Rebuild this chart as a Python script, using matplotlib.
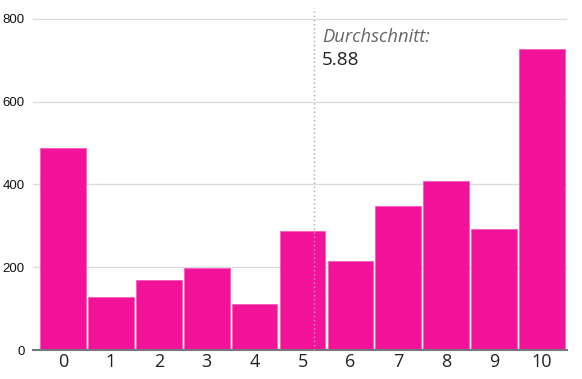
import matplotlib.pyplot as plt

# Werte
scores = [0, 1, 2, 3, 4, 5, 6, 7, 8, 9, 10]
counts = [487, 129, 168, 198, 110, 288, 214, 349, 407, 293, 728]
mean_value = 5.88
mean_pos = 5.23   # wo die Linie im Original steht

pink = '#f2139a'

fig = plt.figure(figsize=(5.82, 3.79), dpi=100)
ax = fig.add_axes([0.0567, 0.0765, 0.9175, 0.9024])

ax.bar(scores, counts, width=0.955, color=pink, edgecolor='#f75bb9', linewidth=0.6, zorder=3)

ax.set_xlim(-0.626, 10.52)
ax.set_ylim(0, 826)
ax.set_yticks([0, 200, 400, 600, 800])
ax.set_xticks(scores)
ax.set_xticklabels([str(s) for s in scores], fontsize=13, family='Open Sans', color='#222222')
ax.set_yticklabels(['0', '200', '400', '600', '800'], fontsize=9.5, family='Liberation Sans', color='#111111')
ax.tick_params(axis='both', length=0)
ax.tick_params(axis='y', pad=6)
ax.tick_params(axis='x', pad=2)

ax.grid(axis='y', color='#dcdcdc', linewidth=1, zorder=0)
for s in ['top', 'right', 'left']:
    ax.spines[s].set_visible(False)
ax.spines['bottom'].set_color('#777777')
ax.spines['bottom'].set_linewidth(1.5)
ax.spines['bottom'].set_zorder(4)

# Durchschnittslinie
ax.axvline(mean_pos, color='#aaaaaa', linestyle=(0, (1, 2)), linewidth=1, zorder=5)
ax.annotate('Durchschnitt:', xy=(mean_pos, 756), xytext=(6, 0), textcoords='offset points',
            fontsize=13.2, family='Open Sans', style='italic', color='#666666', va='center', ha='left')
ax.annotate('%.2f' % mean_value, xy=(mean_pos, 700), xytext=(6, 0), textcoords='offset points',
            fontsize=13.6, family='Open Sans', color='#222222', va='center', ha='left')

fig.savefig('out.png', dpi=100)
